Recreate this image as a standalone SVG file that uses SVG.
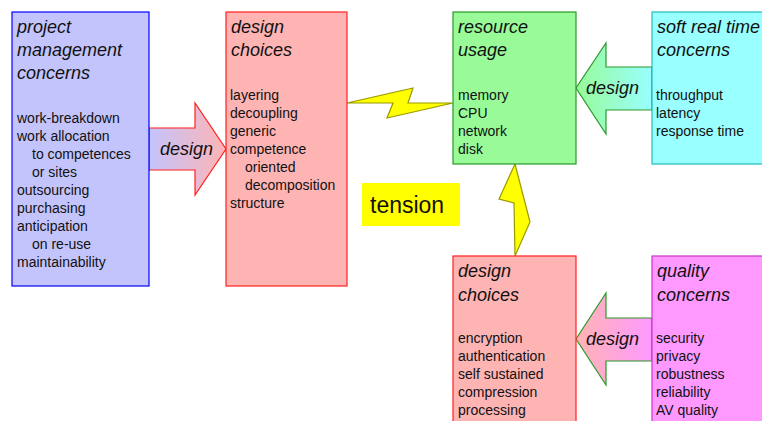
<svg xmlns="http://www.w3.org/2000/svg" width="762" height="421" viewBox="0 0 762 421">
<style>
text{font-family:"Liberation Sans",Arial,sans-serif;fill:#111}
.t{font-size:18px;font-style:italic}
.b{font-size:14px}
.bolt{fill:#ffff00;stroke:#999900;stroke-width:1.2;stroke-linejoin:miter}
</style>
<defs>
<linearGradient id="g1" x1="0" x2="1" y1="0" y2="0"><stop offset="0" stop-color="#c4c4fc"/><stop offset="1" stop-color="#ffb4b4"/></linearGradient>
<linearGradient id="g2" x1="0" x2="1" y1="0" y2="0"><stop offset="0" stop-color="#98fb98"/><stop offset="1" stop-color="#99ffff"/></linearGradient>
<linearGradient id="g3" x1="0" x2="1" y1="0" y2="0"><stop offset="0" stop-color="#ffb4b4"/><stop offset="1" stop-color="#ff99ff"/></linearGradient>
</defs>
<g id="connectors">
<polygon points="149,128 195,128 195,103 226,149 195,195 195,170 149,170" fill="url(#g1)" stroke="#ff2020" stroke-width="1.2"/>
<text class="t" x="160" y="155">design</text>
<polygon points="652,67 606,67 606,43 576,88 606,134 606,110 652,110" fill="url(#g2)" stroke="#2a9a2a" stroke-width="1.2"/>
<text class="t" x="586" y="94">design</text>
<polygon points="652,318 606,318 606,293 576,339 606,385 606,361 652,361" fill="url(#g3)" stroke="#2a9a2a" stroke-width="1.2"/>
<text class="t" x="586" y="345">design</text>
<polygon class="bolt" points="347,103 413,88 408,103 453,103 387,118 393,103"/>
<polygon class="bolt" points="515,164 530,222 515,256 514,203 499,199"/>
</g>
<g id="pm">
<rect x="12" y="12" width="137" height="274" fill="#c4c4fc" stroke="#0000ff" stroke-width="1.2"/>
<text class="t" x="17" y="33">project</text>
<text class="t" x="17" y="56">management</text>
<text class="t" x="17" y="79">concerns</text>
<text class="b" x="17" y="123">work-breakdown</text>
<text class="b" x="17" y="141">work allocation</text>
<text class="b" x="32" y="159">to competences</text>
<text class="b" x="32" y="177">or sites</text>
<text class="b" x="17" y="195">outsourcing</text>
<text class="b" x="17" y="213">purchasing</text>
<text class="b" x="17" y="231">anticipation</text>
<text class="b" x="32" y="249">on re-use</text>
<text class="b" x="17" y="267">maintainability</text>
</g>
<g id="dc1">
<rect x="226" y="12" width="121" height="274" fill="#ffb4b4" stroke="#ff2020" stroke-width="1.2"/>
<text class="t" x="231" y="33">design</text>
<text class="t" x="231" y="56">choices</text>
<text class="b" x="230" y="100">layering</text>
<text class="b" x="230" y="118">decoupling</text>
<text class="b" x="230" y="136">generic</text>
<text class="b" x="230" y="154">competence</text>
<text class="b" x="245" y="172">oriented</text>
<text class="b" x="245" y="190">decomposition</text>
<text class="b" x="230" y="208">structure</text>
</g>
<g id="ru">
<rect x="453" y="12" width="123" height="152" fill="#98fb98" stroke="#2a9a2a" stroke-width="1.2"/>
<text class="t" x="458" y="33">resource</text>
<text class="t" x="458" y="56">usage</text>
<text class="b" x="458" y="100">memory</text>
<text class="b" x="458" y="118">CPU</text>
<text class="b" x="458" y="136">network</text>
<text class="b" x="458" y="154">disk</text>
</g>
<g id="srt">
<rect x="652" y="12" width="120" height="152" fill="#99ffff" stroke="#22bbbb" stroke-width="1.2"/>
<text class="t" x="657" y="33">soft real time</text>
<text class="t" x="657" y="56">concerns</text>
<text class="b" x="656" y="100">throughput</text>
<text class="b" x="656" y="118">latency</text>
<text class="b" x="656" y="136">response time</text>
</g>
<g id="tension">
<rect x="362" y="183" width="98" height="43" fill="#ffff00"/>
<text x="370" y="213" style="font-size:23px">tension</text>
</g>
<g id="dc2">
<rect x="453" y="256" width="123" height="170" fill="#ffb4b4" stroke="#ff2020" stroke-width="1.2"/>
<text class="t" x="458" y="277">design</text>
<text class="t" x="458" y="301">choices</text>
<text class="b" x="458" y="343">encryption</text>
<text class="b" x="458" y="361">authentication</text>
<text class="b" x="458" y="379">self sustained</text>
<text class="b" x="458" y="397">compression</text>
<text class="b" x="458" y="415">processing</text>
</g>
<g id="qc">
<rect x="652" y="256" width="120" height="170" fill="#ff99ff" stroke="#cc33cc" stroke-width="1.2"/>
<text class="t" x="657" y="277">quality</text>
<text class="t" x="657" y="301">concerns</text>
<text class="b" x="656" y="343">security</text>
<text class="b" x="656" y="361">privacy</text>
<text class="b" x="656" y="379">robustness</text>
<text class="b" x="656" y="397">reliability</text>
<text class="b" x="656" y="415">AV quality</text>
</g>
</svg>
